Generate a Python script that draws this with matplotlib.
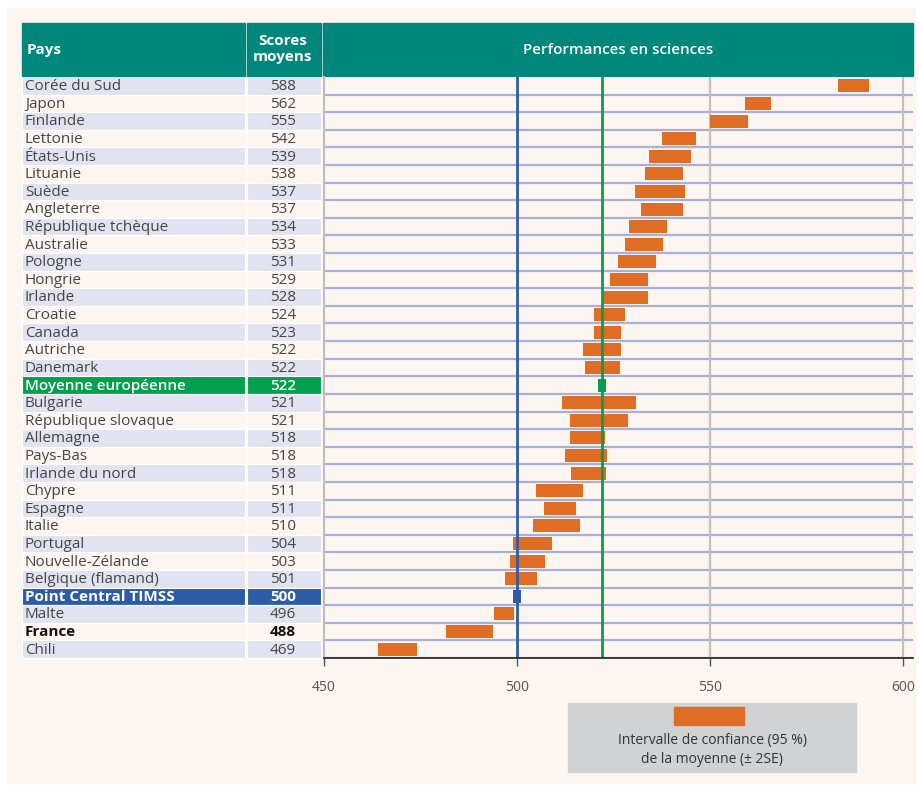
import matplotlib
matplotlib.use('Agg')
import matplotlib.pyplot as plt
from matplotlib.patches import Rectangle
from matplotlib.transforms import blended_transform_factory

W, H = 919, 785

countries = ['Corée du Sud', 'Japon', 'Finlande', 'Lettonie', 'États-Unis', 'Lituanie',
             'Suède', 'Angleterre', 'République tchèque', 'Australie', 'Pologne', 'Hongrie',
             'Irlande', 'Croatie', 'Canada', 'Autriche', 'Danemark', 'Moyenne européenne',
             'Bulgarie', 'République slovaque', 'Allemagne', 'Pays-Bas', 'Irlande du nord',
             'Chypre', 'Espagne', 'Italie', 'Portugal', 'Nouvelle-Zélande', 'Belgique (flamand)',
             'Point Central TIMSS', 'Malte', 'France', 'Chili']
scores = [588, 562, 555, 542, 539, 538, 537, 537, 534, 533, 531, 529, 528, 524, 523, 522, 522,
          522, 521, 521, 518, 518, 518, 511, 511, 510, 504, 503, 501, 500, 496, 488, 469]
ci_low = [583.2, 559.1, 550.0, 537.6, 534.2, 533.2, 530.6, 532.1, 529.0, 528.0, 526.2, 524.1,
          522.0, 519.9, 519.9, 517.1, 517.6, 521.0, 511.7, 513.7, 513.7, 512.4, 514.0, 504.9,
          507.0, 504.1, 499.0, 498.2, 496.9, 499.0, 494.0, 481.6, 464.0]
ci_high = [591.2, 565.8, 559.8, 546.4, 545.1, 543.0, 543.5, 543.0, 538.9, 537.8, 536.0, 533.9,
           533.9, 528.0, 526.9, 526.9, 526.7, 523.0, 530.8, 528.8, 522.8, 523.3, 523.1, 517.1,
           515.3, 516.3, 509.1, 507.3, 505.2, 501.0, 499.2, 493.8, 474.1]
xticks = [450, 500, 550, 600]
timss_center = 500
euro_mean = 522

teal = '#00877b'
orange = '#df6d23'
green = '#00a04f'
blue = '#2e5ca4'
lavender = '#e1e3f1'
peach = '#fdf5f0'
text_col = '#454545'

plt.rcParams['font.family'] = ['Open Sans', 'DejaVu Sans']


def fx(px):
    return px / W


def fy(py):
    return 1 - py / H


fig = plt.figure(figsize=(W / 100, H / 100), dpi=100, facecolor='white')
fig.patches.append(Rectangle((fx(7), fy(783)), fx(915) - fx(7), fy(8) - fy(783),
                             transform=fig.transFigure, color=peach, zorder=-5))

ax = fig.add_axes([fx(324), fy(658), fx(913) - fx(324), fy(77) - fy(658)])
ax.set_zorder(2)
ax.set_facecolor(peach)
n = len(countries)
ax.set_xlim(450, 602.6)
ax.set_ylim(n - 0.5, -0.5)

# row separators
for i in range(n):
    ax.axhline(i + 0.5, color='#a7b0d6', lw=1.6, zorder=1)
# vertical lines
for v in [550, 600]:
    ax.axvline(v, color='#c4c0bf', lw=1.6, zorder=1)
ax.axvline(timss_center, color=blue, lw=2, zorder=5)
ax.axvline(euro_mean, color=green, lw=2, zorder=5)

# confidence intervals
for i, c in enumerate(countries):
    col = orange
    if c == 'Moyenne européenne':
        col = green
    elif c == 'Point Central TIMSS':
        col = blue
    ax.barh(i, ci_high[i] - ci_low[i], left=ci_low[i], height=0.74, color=col, zorder=4)

for s in ['top', 'right']:
    ax.spines[s].set_visible(False)
ax.spines['left'].set_color('#bdbdbd')
ax.spines['left'].set_linewidth(1.5)
ax.spines['bottom'].set_color('#222222')
ax.spines['bottom'].set_linewidth(1.2)
ax.spines['bottom'].set_zorder(6)
ax.set_yticks([])
ax.set_xticks(xticks)
ax.tick_params(axis='x', direction='out', length=6, width=1, color='#555555',
               labelsize=10, labelcolor='#555555', pad=10)

# left table
tr = blended_transform_factory(fig.transFigure, ax.transData)
for i, c in enumerate(countries):
    fc = lavender if i % 2 == 0 else peach
    tc = text_col
    weight = 'normal'
    if c == 'Moyenne européenne':
        fc, tc, weight = green, 'white', 'semibold'
    elif c == 'Point Central TIMSS':
        fc, tc, weight = blue, 'white', 'bold'
    elif c == 'France':
        tc, weight = '#111111', 'bold'
    for x0, x1 in [(22, 245), (247, 321)]:
        fig.patches.append(Rectangle((fx(x0), i - 0.5), fx(x1) - fx(x0), 1.0, transform=tr,
                                     facecolor=fc, edgecolor='white', lw=0.8, zorder=1))
    fig.text(fx(25), i + 0.05, c, transform=tr, ha='left', va='center', fontsize=11,
             color=tc, fontweight=weight)
    fig.text(fx(283), i + 0.05, str(scores[i]), transform=tr, ha='center', va='center',
             fontsize=11, color=tc, fontweight=weight)

# header
for x0, x1 in [(22, 245), (247, 321), (323, 913)]:
    fig.patches.append(Rectangle((fx(x0), fy(76)), fx(x1) - fx(x0), fy(23) - fy(76),
                                 transform=fig.transFigure, color=teal, zorder=1))
fig.text(fx(27), fy(50), 'Pays', ha='left', va='center', fontsize=11,
         color='white', fontweight='bold')
fig.text(fx(283), fy(49), 'Scores\nmoyens', ha='center', va='center', fontsize=11,
         color='white', fontweight='bold', linespacing=1.15)
fig.text(fx(618), fy(50), 'Performances en sciences', ha='center', va='center',
         fontsize=11, color='white', fontweight='semibold')

# legend box
fig.patches.append(Rectangle((fx(568), fy(772)), fx(856) - fx(568), fy(703) - fy(772),
                             transform=fig.transFigure, color='#d1d2d4', zorder=1))
fig.patches.append(Rectangle((fx(674), fy(725)), fx(744) - fx(674), fy(707) - fy(725),
                             transform=fig.transFigure, color=orange, zorder=2))
fig.text(fx(712), fy(750), 'Intervalle de confiance (95 %)\nde la moyenne (± 2SE)',
         ha='center', va='center', fontsize=10, color='#333333', linespacing=1.3)

fig.savefig('out.png', dpi=100, facecolor='white')
